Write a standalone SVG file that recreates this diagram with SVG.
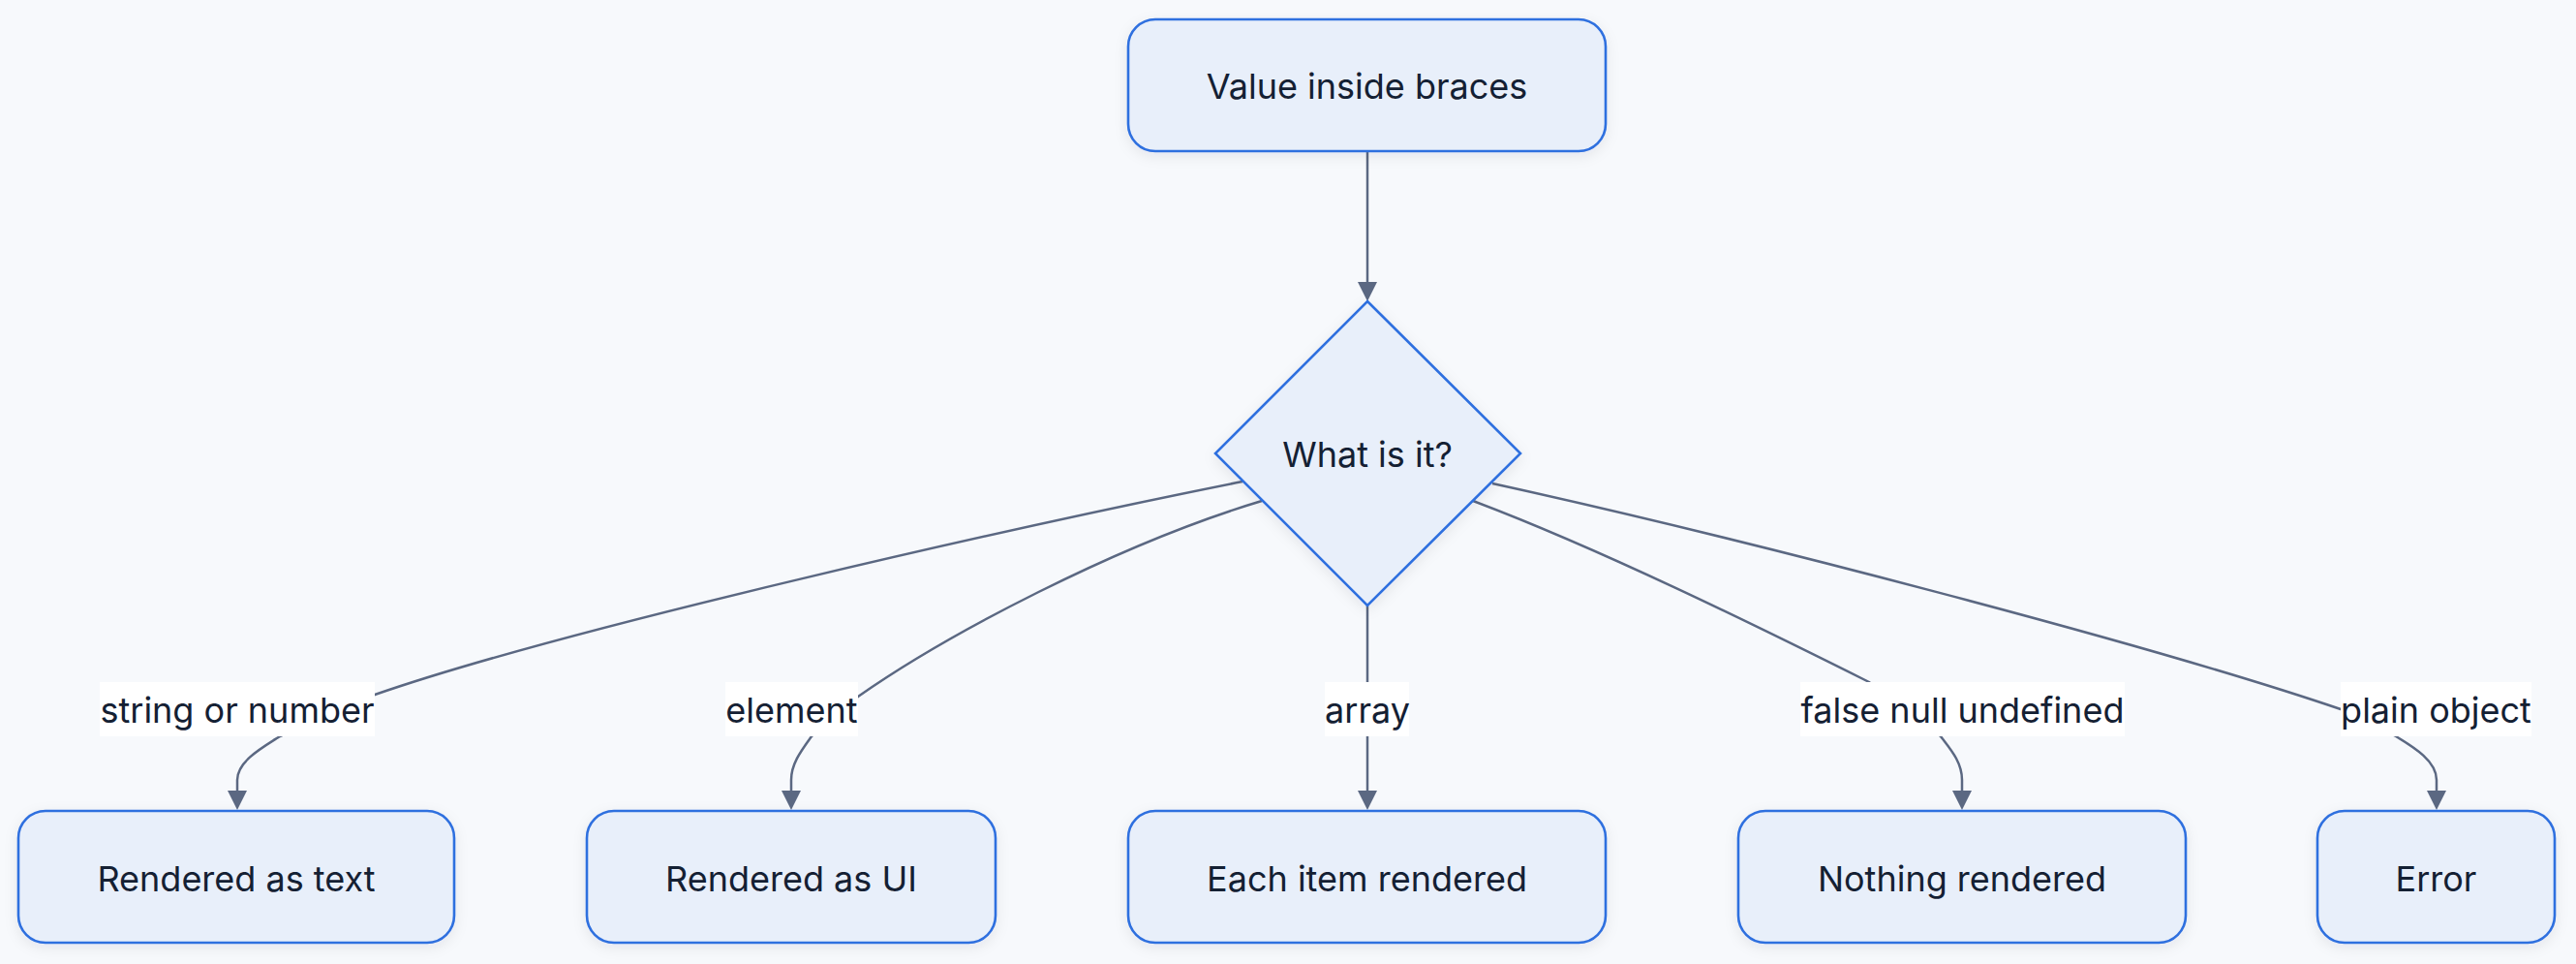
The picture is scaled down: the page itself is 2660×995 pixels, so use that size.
<svg xmlns="http://www.w3.org/2000/svg" width="2660" height="995" viewBox="0 0 2660 995">
  <style>
    .node { fill: #e8effa; stroke: #2f6fdf; stroke-width: 2.6; filter: url(#shadow); }
    .ntext { font-family: Inter, "Liberation Sans", sans-serif; font-size: 36px; fill: #142033; text-anchor: middle; }
    .edge { fill: none; stroke: #5b6882; stroke-width: 2.5; marker-end: url(#arr); }
    .lbox { fill: #ffffff; }
    .ltext { font-family: Inter, "Liberation Sans", sans-serif; font-size: 36px; fill: #142033; text-anchor: middle; }
  </style>
  <defs>
    <filter id="shadow" x="-20%" y="-30%" width="140%" height="160%">
      <feDropShadow dx="0" dy="4" stdDeviation="7" flood-color="#1e293b" flood-opacity="0.08"/>
    </filter>
    <marker id="arr" viewBox="0 0 20 20" refX="1" refY="10" markerWidth="20" markerHeight="20" markerUnits="userSpaceOnUse" orient="auto">
      <path d="M0,0 L20,10 L0,20 z" fill="#5b6882"/>
    </marker>
  </defs>
  <rect x="0" y="0" width="2660" height="995" fill="#f7f9fc"/>

  <g id="connectors">
    <path class="edge" d="M1412,156 L1412,292"/>
    <path class="edge" d="M1283,497 C1053,543 586,648 387,717 L289,760 C270,772 245,786 245,805 L245,817"/>
    <path class="edge" d="M1303,517 C1153,562 976,656 886,719 L838,760 C828,774 817,788 817,805 L817,817"/>
    <path class="edge" d="M1412,625 L1412,817"/>
    <path class="edge" d="M1521,517 C1651,566 1810,644 1930,704 L2004,760 C2013,772 2026,786 2026,805 L2026,817"/>
    <path class="edge" d="M1541,499 C1792,554 2217,664 2417,732 L2474,760 C2494,772 2516,786 2516,805 L2516,817"/>
    <g id="edge-labels">
      <rect class="lbox" x="103" y="704" width="284" height="56"/>
      <text class="ltext" x="245" y="746">string or number</text>
      <rect class="lbox" x="749" y="704" width="137" height="56"/>
      <text class="ltext" x="817.5" y="746">element</text>
      <rect class="lbox" x="1368" y="704" width="87" height="56"/>
      <text class="ltext" x="1412" y="746">array</text>
      <rect class="lbox" x="1859" y="704" width="335" height="56"/>
      <text class="ltext" x="2026.5" y="746">false null undefined</text>
      <rect class="lbox" x="2417" y="704" width="197" height="56"/>
      <text class="ltext" x="2515.5" y="746">plain object</text>
    </g>
  </g>

  <g id="value">
    <rect class="node" x="1165" y="20" width="493" height="136" rx="28" ry="28"/>
    <text class="ntext" x="1411.5" y="102">Value inside braces</text>
  </g>
  <g id="what">
    <polygon class="node" points="1412,311 1570,468 1412,625 1255,468"/>
    <text class="ntext" x="1412" y="482">What is it?</text>
  </g>
  <g id="text">
    <rect class="node" x="19" y="837" width="450" height="136" rx="28" ry="28"/>
    <text class="ntext" x="244" y="920">Rendered as text</text>
  </g>
  <g id="ui">
    <rect class="node" x="606" y="837" width="422" height="136" rx="28" ry="28"/>
    <text class="ntext" x="817" y="920">Rendered as UI</text>
  </g>
  <g id="each">
    <rect class="node" x="1165" y="837" width="493" height="136" rx="28" ry="28"/>
    <text class="ntext" x="1411.5" y="920">Each item rendered</text>
  </g>
  <g id="nothing">
    <rect class="node" x="1795" y="837" width="462" height="136" rx="28" ry="28"/>
    <text class="ntext" x="2026" y="920">Nothing rendered</text>
  </g>
  <g id="error">
    <rect class="node" x="2393" y="837" width="245" height="136" rx="28" ry="28"/>
    <text class="ntext" x="2515.5" y="920">Error</text>
  </g>
</svg>
